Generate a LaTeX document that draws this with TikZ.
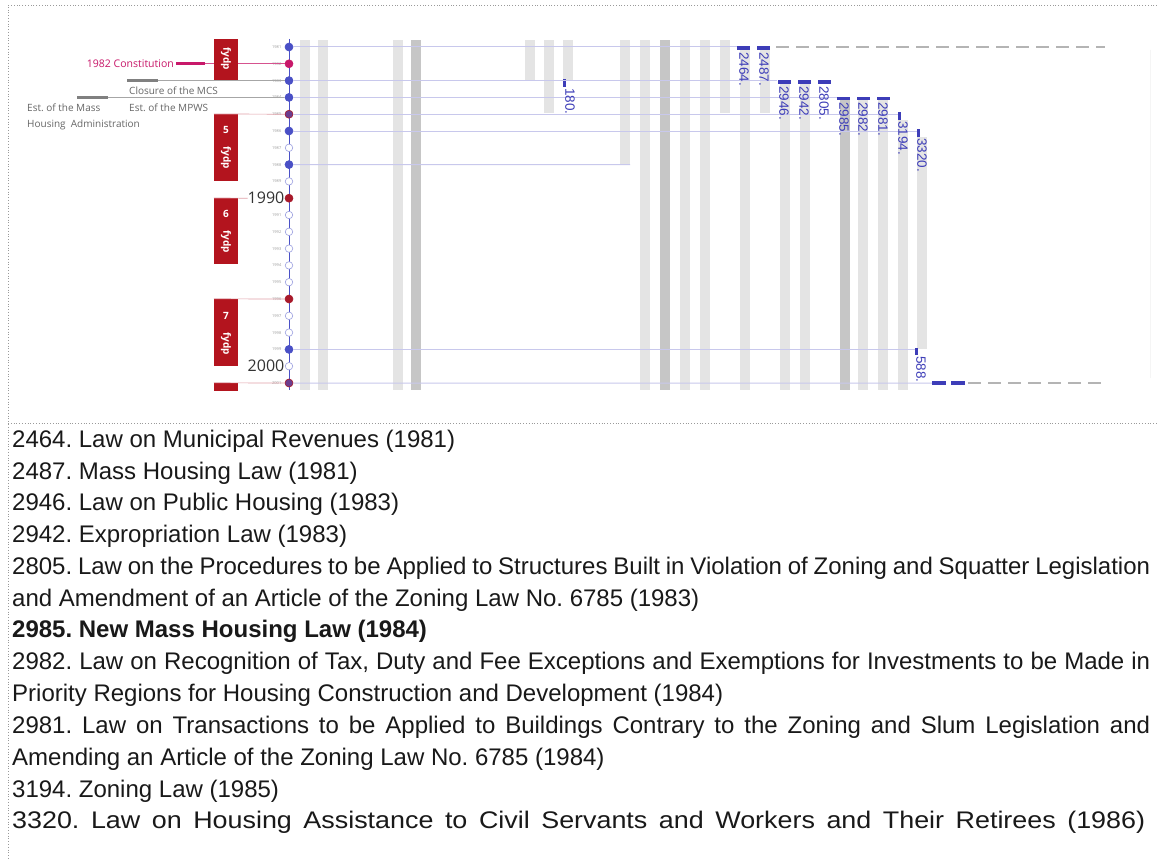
\documentclass[tikz,border=0pt]{standalone}
\usepackage{fontspec}
\setmainfont{Open Sans}
\newfontfamily\listfont{Liberation Sans}
\newfontfamily\listwide[FakeStretch=1.12]{Liberation Sans}
\newfontfamily\lawfont{Liberation Sans}
\frenchspacing
\definecolor{lawblue}{HTML}{3D3DB8}
\definecolor{dotblue}{HTML}{4A50C6}
\definecolor{lav}{HTML}{C8C8EC}
\definecolor{crim}{HTML}{C8186A}
\definecolor{fred}{HTML}{B3141E}
\definecolor{dred}{HTML}{A8192A}
\definecolor{barl}{HTML}{E4E4E4}
\definecolor{bard}{HTML}{C6C6C6}
\definecolor{gtxt}{HTML}{666666}
\definecolor{gseg}{HTML}{808080}
\definecolor{pinkl}{HTML}{E0A0A8}
\definecolor{framec}{HTML}{9A9A9A}
\definecolor{dashg}{HTML}{B4B4B4}
\tikzset{
 dot/.style={circle, inner sep=0pt, minimum size=8pt, line width=0.6pt},
 bdot/.style={dot, fill=dotblue, draw=dotblue},
 mdot/.style={dot, fill=crim, draw=crim},
 rdot/.style={dot, fill=dred, draw=dred},
 pdot/.style={dot, fill=dotblue!65!dred, draw=dred},
 odot/.style={dot, minimum size=7.5pt, fill=white, draw=dotblue!55},
 fbox/.style={fill=fred, draw=none, inner sep=0pt, minimum width=24pt},
 ftext/.style={text=white, font=\bfseries\fontsize{10}{11}\selectfont, inner sep=0pt},
 hmark/.style={fill=lawblue, inner sep=0pt, minimum width=13pt, minimum height=3.5pt},
 vmark/.style={fill=lawblue, inner sep=0pt, minimum width=3pt, minimum height=7.5pt},
 lawlbl/.style={text=lawblue, font=\lawfont\fontsize{13.5}{14}\selectfont, rotate=-90, anchor=west, inner sep=0pt},
 hline/.style={draw=lav, line width=1pt},
 gdash/.style={draw=dashg, line width=1.5pt, dash pattern=on 13pt off 7pt},
 yrlbl/.style={font=\fontsize{4}{4}\selectfont, text=gray!80, anchor=east, inner sep=0.5pt},
 gtext/.style={text=gtxt, font=\fontsize{10}{12}\selectfont, inner sep=0pt, anchor=west},
 listline/.style={anchor=west, inner sep=0pt, font=\listfont\fontsize{24}{26}\selectfont, text=black!90},
}
\begin{document}
\begin{tikzpicture}[x=1pt,y=-1pt]
\useasboundingbox (0,0) rectangle (1157,859);
\fill[white] (0,0) rectangle (1157,859);
% frame
\draw[framec, dotted, line width=0.8pt] (1157,5) -- (8,5) -- (8,859);
\draw[framec, dotted, line width=0.8pt] (8,423) -- (1157,423);
\draw[gray!8, line width=1pt] (1150,50) -- (1150,378);
% vertical bars
\foreach \xa/\ya/\yb/\c in {300/40/390/barl, 318/40/390/barl, 393/40/390/barl, 411/40/390/bard,
  525/40/80/barl, 544/40/113/barl, 563/40/80/barl, 620/40/165/barl, 640/40/390/barl,
  660/40/390/bard, 680/40/390/barl, 700/40/390/barl, 720/40/113/barl, 740/50/390/barl,
  760/50/113/barl, 780/84/390/barl, 800/84/390/barl, 840/100/390/bard, 858/100/390/barl,
  878/100/390/barl, 898/120/390/barl, 917/137/349/barl}
  \fill[\c] (\xa,\ya) rectangle ({\xa+10},\yb);
% axis
\draw[dotblue, line width=0.8pt] (289,39) -- (289,390);
% year dots
\foreach \yr/\st in {1981/bdot,1982/mdot,1983/bdot,1984/bdot,1985/pdot,1986/bdot,1987/odot,
  1988/bdot,1989/odot,1990/rdot,1991/odot,1992/odot,1993/odot,1994/odot,1995/odot,1996/rdot,
  1997/odot,1998/odot,1999/bdot,2000/odot,2001/pdot}
  \node[\st] (y\yr) at (289,{47+16.8*(\yr-1981)}) {};
\foreach \yr in {1981,...,1989,1991,1992,1993,1994,1995,1996,1997,1998,1999,2001}
  \node[yrlbl] (l\yr) at (282,{47+16.8*(\yr-1981)}) {\yr};
\node[font=\fontsize{16}{16}\selectfont, text=black!80, anchor=east, inner sep=0pt] (t1990) at (284.5,198.2) {1990};
\node[font=\fontsize{16}{16}\selectfont, text=black!80, anchor=east, inner sep=0pt] (t2000) at (284.5,366.2) {2000};
% law markers
\node[hmark] (m2464) at (743.5,48) {};
\node[hmark] (m2487) at (763.5,48) {};
\node[hmark] (m2946) at (784,82) {};
\node[hmark] (m2942) at (804,82) {};
\node[hmark] (m2805) at (824,82) {};
\node[hmark] (m2985) at (843.5,98.5) {};
\node[hmark] (m2982) at (863,98.5) {};
\node[hmark] (m2981) at (883,98.5) {};
\node[vmark] (m180) at (564.5,83) {};
\node[vmark] (m3194) at (899.5,116) {};
\node[vmark] (m3320) at (918.5,133) {};
\node[vmark] (m588) at (916.5,351.5) {};
\node[hmark, minimum width=14pt] (d1) at (939,383) {};
\node[hmark, minimum width=14pt] (d2) at (958,383) {};
\coordinate (e1981) at (1105,47);
\coordinate (e2001) at (1105,383);
\coordinate (e1988) at (630,164.6);
% horizontal lines
\draw[hline] (y1981.east) -- (m2464.west |- y1981);
\draw[gdash] ([xshift=6pt]m2487.east |- y1981) -- (e1981);
\draw[hline] (y1983.east) -- (m2946.west |- y1983);
\draw[hline] (y1984.east) -- (m2985.west |- y1984);
\draw[hline] (y1985.east) -- (m3194.west |- y1985);
\draw[hline] (y1986.east) -- (m3320.west |- y1986);
\draw[hline] (y1988.east) -- (e1988);
\draw[hline] (y1999.east) -- (m588.west |- y1999);
\draw[hline] (y2001.east) -- (d1.west);
\draw[gdash] ([xshift=3pt]d2.east) -- (e2001);
% law labels
\node[lawlbl] (n2464) at (744,52) {2464.};
\node[lawlbl] (n2487) at (764,52) {2487.};
\node[lawlbl] (n2946) at (784,86) {2946.};
\node[lawlbl] (n2942) at (804,86) {2942.};
\node[lawlbl] (n2805) at (824,86) {2805.};
\node[lawlbl] (n2985) at (844,102) {2985.};
\node[lawlbl] (n2982) at (863,102) {2982.};
\node[lawlbl] (n2981) at (883,102) {2981.};
\node[lawlbl] (n3194) at (903,121) {3194.};
\node[lawlbl] (n3320) at (922,138) {3320.};
\node[lawlbl] (n180) at (570,88) {180.};
\node[lawlbl] (n588) at (921,356) {588.};
% left events
\node[text=crim, font=\fontsize{10.5}{12}\selectfont, anchor=east, inner sep=0pt] (con) at (174,64) {1982 Constitution};
\coordinate (c1) at (176,63.8); \coordinate (c2) at (205,63.8);
\draw[crim, line width=3pt] (c1) -- (c2);
\draw[crim!75, line width=0.7pt] (c2) -- (y1982.west);
\coordinate (g1) at (127,80.6); \coordinate (g2) at (158,80.6);
\draw[gseg, line width=3pt] (g1) -- (g2);
\draw[gseg!70, line width=0.7pt] (g2) -- (y1983.west);
\coordinate (h1) at (77,97.4); \coordinate (h2) at (108,97.4);
\draw[gseg, line width=3pt] (h1) -- (h2);
\draw[gseg!70, line width=0.7pt] (h2) -- (y1984.west);
\node[gtext, fill=white, inner xsep=3pt, inner ysep=1.5pt] (mcs) at (126,91) {Closure of the MCS};
\node[gtext] (mpws) at (129,108) {Est. of the MPWS};
\node[gtext] (mha1) at (27,108) {Est. of the Mass};
\node[gtext] (mha2) at (27,125) {Housing\ \ Administration};
% five-year plan boxes
\node[fbox, minimum height=41pt] (box1) at (226,59.5) {};
\node[fbox, minimum height=66.8pt] (box2) at (226,147.6) {};
\node[fbox, minimum height=65.8pt] (box3) at (226,231.1) {};
\node[fbox, minimum height=67pt] (box4) at (226,332.5) {};
\node[fbox, minimum height=8pt] (box5) at (226,387) {};
\node[ftext, rotate=-90] (f1) at (226,59) {fydp};
\node[ftext] (n5) at (226,130) {5};
\node[ftext, rotate=-90] (f2) at (226,158) {fydp};
\node[ftext] (n6) at (226,214) {6};
\node[ftext, rotate=-90] (f3) at (226,242) {fydp};
\node[ftext] (n7) at (226,316) {7};
\node[ftext, rotate=-90] (f4) at (226,344) {fydp};
\draw[pinkl, line width=0.7pt] (box2.north west) -- (y1985.west);
\draw[pinkl, line width=0.7pt] (box3.north west) -- (t1990.west);
\draw[pinkl, line width=0.7pt] (box4.north west) -- (y1996.west);
\draw[pinkl, line width=0.7pt] (box5.north west) -- (y2001.west);
% list of laws
\node[listline] (a1) at (12,441) {2464. Law on Municipal Revenues (1981)};
\node[listline] (a2) at (12,472.8) {2487. Mass Housing Law (1981)};
\node[listline] (a3) at (12,504.6) {2946. Law on Public Housing (1983)};
\node[listline] (a4) at (12,536.4) {2942. Expropriation Law (1983)};
\node[listline] (a5) at (12,568.2) {\makebox[1138pt][s]{2805. Law on the Procedures to be Applied to Structures Built in Violation of Zoning and Squatter Legislation}};
\node[listline] (a6) at (12,600) {and Amendment of an Article of the Zoning Law No. 6785 (1983)};
\node[listline] (a7) at (12,631.8) {\bfseries 2985. New Mass Housing Law (1984)};
\node[listline] (a8) at (12,663.6) {\makebox[1138pt][s]{2982. Law on Recognition of Tax, Duty and Fee Exceptions and Exemptions for Investments to be Made in}};
\node[listline] (a9) at (12,695.4) {Priority Regions for Housing Construction and Development (1984)};
\node[listline] (a10) at (12,727.2) {\makebox[1138pt][s]{2981. Law on Transactions to be Applied to Buildings Contrary to the Zoning and Slum Legislation and}};
\node[listline] (a11) at (12,759) {Amending an Article of the Zoning Law No. 6785 (1984)};
\node[listline] (a12) at (12,790.8) {3194. Zoning Law (1985)};
\node[listline, font=\listwide\fontsize{24}{26}\selectfont] (a13) at (12,822.6) {\makebox[1133pt][s]{3320. Law on Housing Assistance to Civil Servants and Workers and Their Retirees (1986)}};
\end{tikzpicture}
\end{document}
